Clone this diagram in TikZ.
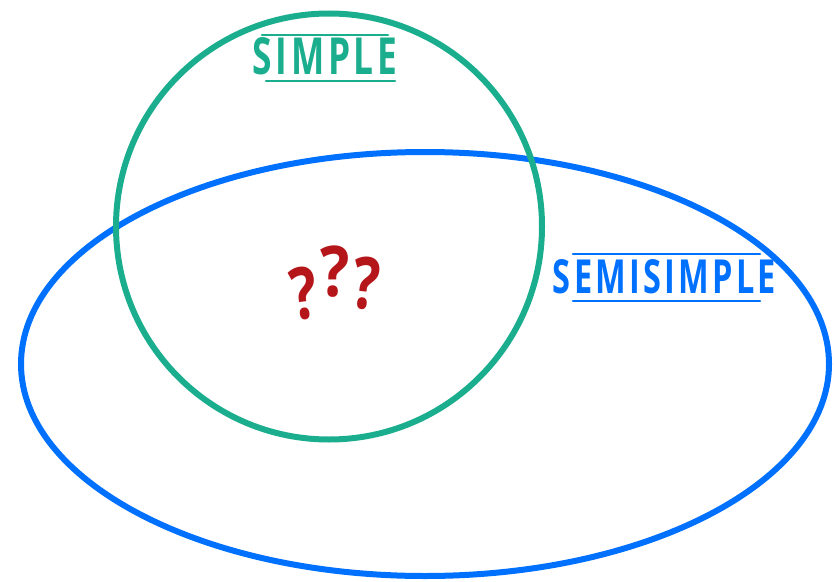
\documentclass[tikz,border=0pt]{standalone}
\usepackage{fontspec}
\setmainfont{Open Sans}
\usepackage{tikz}
\definecolor{simplegreen}{RGB}{26,174,142}
\definecolor{semiblue}{RGB}{0,112,255}
\definecolor{qred}{RGB}{180,22,26}

\begin{document}
\begin{tikzpicture}[x=0.75pt,y=-0.75pt,
    setline/.style={line width=4.5pt},
    bar/.style={line width=1.9pt, line cap=round},
    qmark/.style={text=qred, inner sep=0pt, font=\bfseries}]
    \useasboundingbox (0,0) rectangle (834,581);

    % Draw sets
    \draw[setline, semiblue] (425,364) ellipse (303pt and 159pt);
    \draw[setline, simplegreen] (329,226.5) circle (159.75pt);

    % Labels
    \node[text=simplegreen, inner sep=0pt] (simple) at (325,56.5)
        {\resizebox{108pt}{27.75pt}{\bfseries\addfontfeature{LetterSpace=10}SIMPLE}};
    \draw[bar, simplegreen] ([shift={(-63,-21.5)}]simple.center) -- ([shift={(63,-21.5)}]simple.center);
    \draw[bar, simplegreen] ([shift={(-59,24.5)}]simple.center) -- ([shift={(70,24.5)}]simple.center);

    \node[text=semiblue, inner sep=0pt] (semi) at (664.5,277)
        {\resizebox{167.25pt}{25.5pt}{\bfseries\addfontfeature{LetterSpace=10}SEMISIMPLE}};
    \draw[bar, semiblue] ([shift={(-91.5,-23)}]semi.center) -- ([shift={(95.5,-23)}]semi.center);
    \draw[bar, semiblue] ([shift={(-91.5,24)}]semi.center) -- ([shift={(95.5,24)}]semi.center);

    % Question marks
    \node[qmark, rotate=8] (q1) at (304,293) {\resizebox{20pt}{39pt}{?}};
    \node[qmark] (q2) at (335,272) {\resizebox{22pt}{38pt}{?}};
    \node[qmark, rotate=-6] (q3) at (366,283) {\resizebox{20pt}{39pt}{?}};
\end{tikzpicture}
\end{document}
